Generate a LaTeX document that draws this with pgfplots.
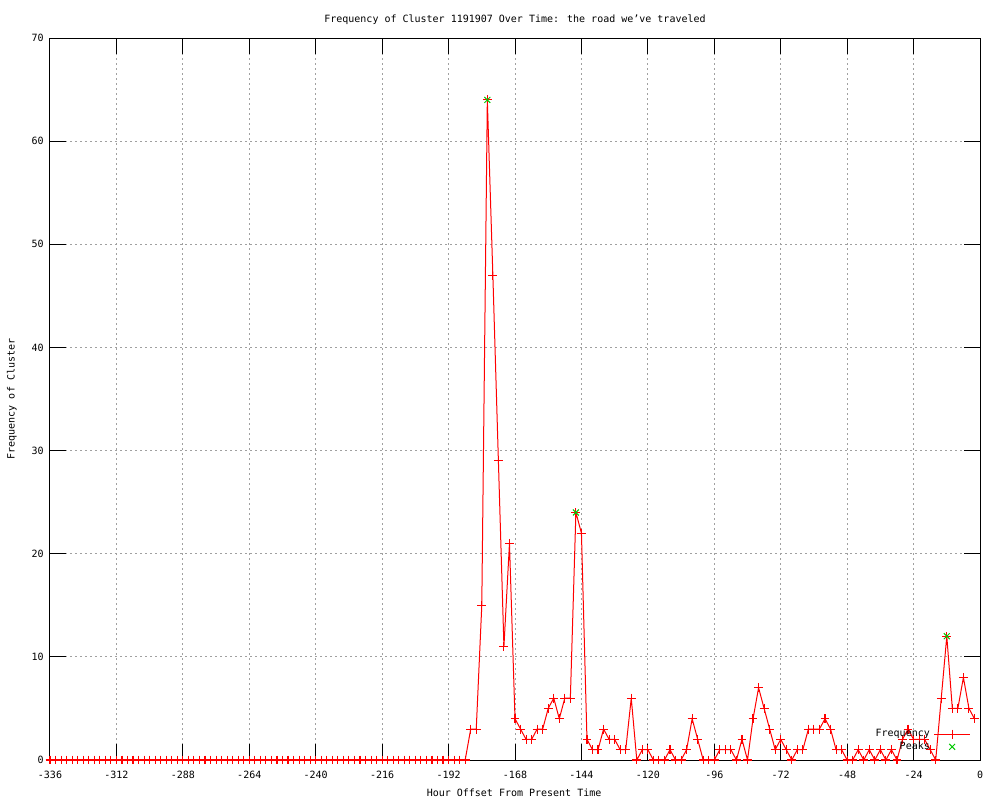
\documentclass[border=0pt]{standalone}
\usepackage{fontspec}
\setmainfont{DejaVu Sans Mono}
\usepackage{pgfplots}
\pgfplotsset{compat=1.18}
\definecolor{gpred}{RGB}{255,0,0}
\definecolor{gpgreen}{RGB}{0,200,0}
\definecolor{gridgray}{RGB}{160,160,160}
\pgfplotstableread{
x y
-336 0
-334 0
-332 0
-330 0
-328 0
-326 0
-324 0
-322 0
-320 0
-318 0
-316 0
-314 0
-312 0
-310 0
-308 0
-306 0
-304 0
-302 0
-300 0
-298 0
-296 0
-294 0
-292 0
-290 0
-288 0
-286 0
-284 0
-282 0
-280 0
-278 0
-276 0
-274 0
-272 0
-270 0
-268 0
-266 0
-264 0
-262 0
-260 0
-258 0
-256 0
-254 0
-252 0
-250 0
-248 0
-246 0
-244 0
-242 0
-240 0
-238 0
-236 0
-234 0
-232 0
-230 0
-228 0
-226 0
-224 0
-222 0
-220 0
-218 0
-216 0
-214 0
-212 0
-210 0
-208 0
-206 0
-204 0
-202 0
-200 0
-198 0
-196 0
-194 0
-192 0
-190 0
-188 0
-186 0
-184 3
-182 3
-180 15
-178 64
-176 47
-174 29
-172 11
-170 21
-168 4
-166 3
-164 2
-162 2
-160 3
-158 3
-156 5
-154 6
-152 4
-150 6
-148 6
-146 24
-144 22
-142 2
-140 1
-138 1
-136 3
-134 2
-132 2
-130 1
-128 1
-126 6
-124 0
-122 1
-120 1
-118 0
-116 0
-114 0
-112 1
-110 0
-108 0
-106 1
-104 4
-102 2
-100 0
-98 0
-96 0
-94 1
-92 1
-90 1
-88 0
-86 2
-84 0
-82 4
-80 7
-78 5
-76 3
-74 1
-72 2
-70 1
-68 0
-66 1
-64 1
-62 3
-60 3
-58 3
-56 4
-54 3
-52 1
-50 1
-48 0
-46 0
-44 1
-42 0
-40 1
-38 0
-36 1
-34 0
-32 1
-30 0
-28 2
-26 3
-24 2
-22 2
-20 2
-18 1
-16 0
-14 6
-12 12
-10 5
-8 5
-6 8
-4 5
-2 4
}\freqtable
\pgfplotstableread{
x y
-178 64
-146 24
-12 12
}\peaktable
\begin{document}
\begin{tikzpicture}
\begin{axis}[
  at={(0,0)}, anchor=south west,
  scale only axis, width=669.6pt, height=519.84pt,
  xmin=-336, xmax=0, ymin=0, ymax=70,
  xtick={-336,-312,...,0}, ytick={0,10,...,70},
  tick align=inside, major tick length=11.5pt,
  grid=major,
  grid style={gridgray, line width=0.72pt, dash pattern=on 1.44pt off 2.16pt},
  axis line style={black, line width=0.72pt},
  every tick/.style={black, line width=0.72pt},
  font=\fontsize{7.2pt}{8.6pt}\selectfont,
  /pgf/number format/assume math mode=true,
  title={Frequency of Cluster 1191907 Over Time: the road we've traveled},
  title style={at={(axis description cs:0.5,1.025)}, anchor=center, inner sep=0pt, yshift=-6pt},
  xlabel={Hour Offset From Present Time},
  xlabel style={at={(axis description cs:0.499,-0.0457)}, anchor=center, inner sep=0pt},
  ylabel={Frequency of Cluster},
  ylabel style={at={(axis description cs:-0.0409,0.5)}, anchor=center, inner sep=0pt},
  xticklabel style={yshift=-4.5pt},
  yticklabel style={xshift=-1pt},
  legend style={at={(axis description cs:0.990,0.044)}, anchor=north east,
    draw=none, fill=none, inner sep=0pt, row sep=1.2pt,
    /tikz/column sep=2.5pt,
    nodes={inner sep=0.4pt, text height=5.6pt, text depth=1.6pt},
    font=\fontsize{7.2pt}{8.6pt}\selectfont},
  legend cell align=right,
  legend plot pos=right,
  clip marker paths=false,
]
\addplot[gpred, draw=gpred, line width=0.72pt, mark=+, mark size=3.2pt,
  mark options={solid, draw=gpred, line width=0.8pt},
  legend image code/.code={\draw[gpred, line width=0.72pt, mark=+, mark size=3.2pt, mark options={solid, draw=gpred}, mark repeat=2, mark phase=2] plot coordinates {(0cm,0cm) (0.45cm,0cm) (0.9cm,0cm)};}]
  table[x=x,y=y] {\freqtable};
\addlegendentry{Frequency}
\addplot[gpgreen, only marks, mark=x, mark size=3pt, mark options={draw=gpgreen, line width=0.72pt},
  legend image code/.code={\draw[gpgreen, mark=x, mark size=3pt, mark options={draw=gpgreen, line width=0.72pt}] plot[only marks] coordinates {(0.45cm,0cm)};}]
  table[x=x,y=y] {\peaktable};
\addlegendentry{Peaks}
\end{axis}
\pgfresetboundingbox
\path (-36pt,-28.8pt) rectangle (684pt,547.2pt);
\end{tikzpicture}
\end{document}
